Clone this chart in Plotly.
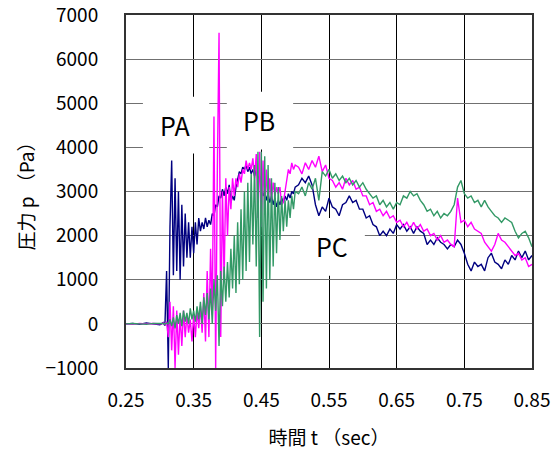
import numpy as np
import plotly.graph_objects as go

# ---- time samples (s) ----
T_FLAT = [0.25, 0.26, 0.27, 0.28, 0.29, 0.30]
T_MID = list(np.round(np.arange(0.3025, 0.50001, 0.0025), 4))   # 80 samples
T_END = list(np.round(np.arange(0.505, 0.85001, 0.005), 3))      # 70 samples
T = T_FLAT + T_MID + T_END

# ---- PA (navy) ----
PA_flat = [0, 10, -10, 20, 0, -20]
PA_mid = [
    0, 30, -40, 1200,
    -1000, 2200, 3700, 1100,
    3300, 1200, 3000, 1000,
    2700, 1300, 2500, 1500,
    2300, 1500, 2200, 1600,
    2300, 1800, 2400, 2100,
    2300, 2150, 2400, 2200,
    2350, 2250, 2500, 2450,
    2700, 2650, 2900, 2850,
    3050, 2900, 3100, 2950,
    3150, 2750, 2900, 2800,
    3100, 3250, 3450, 3400,
    3550, 3500, 3600, 3450,
    3550, 3400, 3500, 3350,
    3500, 3300, 3350, 3100,
    2900, 3000, 2800, 2950,
    2750, 2900, 2700, 2850,
    2650, 2800, 2700, 2850,
    2750, 2900, 2800, 2950,
    2850, 3000, 2950, 3100,
]
PA_end = [
    3150, 3300, 3200, 3350, 3150, 2700, 2450, 2650, 2550, 2850,
    2650, 2600, 2450, 2700, 2750, 2900, 2750, 2800, 2600, 2600,
    2400, 2450, 2250, 2200, 2000, 2100, 2000, 2150, 2050, 2250,
    2150, 2250, 2100, 2200, 2050, 2200, 2100, 2050, 1800, 1900,
    1800, 1950, 1850, 1800, 1700, 1800, 1750, 1900, 1800, 1600,
    1350, 1200, 1400, 1300, 1350, 1200, 1500, 1600, 1400, 1350,
    1250, 1450, 1350, 1550, 1450, 1650, 1500, 1650, 1450, 1550,
]

# ---- PB (magenta) ----
PB_flat = [0, -10, 10, 0, 10, -10]
PB_mid = [
    0, 20, -20, 50,
    -300, 500, -600, 400,
    -1000, 300, -700, 200,
    -500, 300, -300, 200,
    -200, 100, -400, 200,
    -300, 300, -100, 400,
    -200, 700, -400, 1200,
    -300, 1700, 200, 4700,
    -1000, 3500, 6600, -300,
    3000, 1000, 3300, 2000,
    3100, 2600, 3300, 2900,
    3300, 3100, 3400, 3200,
    3500, 3400, 3700, 3500,
    3650, 3500, 3750, 3300,
    3850, 2400, 3900, 2200,
    3700, 2500, 3500, 2700,
    3300, 2800, 3200, 2900,
    3100, 2950, 3100, 2700,
    2750, 3000, 3300, 3500,
    3400, 3650, 3500, 3600,
]
PB_end = [
    3550, 3400, 3650, 3500, 3700, 3550, 3800, 3450, 3600, 3300,
    3250, 3100, 3200, 3050, 3300, 3150, 3250, 3050, 3100, 2900,
    2900, 2700, 2750, 2550, 2600, 2450, 2550, 2400, 2450, 2300,
    2350, 2200, 2300, 2150, 2300, 2150, 2250, 2100, 2150, 2000,
    2050, 1900, 2000, 1850, 1900, 1800, 1750, 2850, 2300, 2350,
    2200, 2300, 2150, 2100, 2050, 1850, 1750, 1650, 1800, 2050,
    1900, 1850, 1750, 1650, 1550, 1600, 1450, 1500, 1300, 1350,
]

# ---- PC (green) ----
PC_flat = [0, 10, 0, -10, 10, 0]
PC_mid = [
    0, 10, -10, 20,
    0, 100, -50, 150,
    -100, 200, 0, 250,
    -50, 300, 50, 250,
    0, 350, 100, 300,
    50, 400, 100, 500,
    0, 600, 200, 700,
    100, 800, 0, 1000,
    300, 1100, -500, 1200,
    400, 1300, 500, 1400,
    600, 1700, 800, 2000,
    700, 2300, 900, 2600,
    1000, 3000, 1200, 3200,
    1400, 3400, 1800, 3600,
    1300, 3900, -300, 3900,
    500, 3800, 800, 3600,
    1000, 3300, 1300, 3200,
    1600, 3100, 1900, 2900,
    2100, 2800, 2200, 2800,
    2400, 2900, 2600, 3000,
]
PC_end = [
    2950, 3100, 2900, 3200, 3050, 3300, 2800, 3450, 3350, 3500,
    3300, 3400, 3250, 3350, 3200, 3300, 3150, 3250, 3100, 3200,
    3050, 2950, 2850, 2900, 2700, 2800, 2650, 2750, 2600, 2750,
    2700, 2900, 2850, 3000, 2900, 2950, 2800, 2700, 2550, 2600,
    2450, 2550, 2400, 2500, 2450, 2550, 2700, 3100, 3250, 2950,
    2850, 2900, 2750, 2800, 2650, 2800, 2650, 2550, 2450, 2400,
    2300, 2400, 2350, 2300, 2100, 1950, 2050, 2100, 1950, 1750,
]

PA = PA_flat + PA_mid + PA_end
PB = PB_flat + PB_mid + PB_end
PC = PC_flat + PC_mid + PC_end
assert len(PA) == len(T) and len(PB) == len(T) and len(PC) == len(T)

SERIES = [("PA", PA, "#000080"), ("PB", PB, "#FF00FF"), ("PC", PC, "#339966")]

# label positions (data coords) and their white boxes
LABELS = [("PA", 0.322, 4500), ("PB", 0.447, 4620), ("PC", 0.555, 1760)]
BOXES = [(0.275, 0.373, 3860, 5150), (0.399, 0.497, 3950, 5260), (0.507, 0.603, 1090, 2400)]

FONT = "Noto Sans CJK JP, sans-serif"

fig = go.Figure()
for name, vals, col in SERIES:
    fig.add_trace(go.Scatter(x=T, y=vals, mode="lines", name=name,
                             line=dict(color=col, width=1.4)))

for x0, x1, y0, y1 in BOXES:
    fig.add_shape(type="rect", xref="x", yref="y", x0=x0, x1=x1, y0=y0, y1=y1,
                  fillcolor="white", line=dict(width=0), layer="between")

for txt, xv, yv in LABELS:
    fig.add_annotation(x=xv, y=yv, text=txt, showarrow=False,
                       font=dict(family=FONT, size=25, color="black"))

fig.update_layout(
    width=553, height=450,
    margin=dict(l=126, r=21, t=15, b=82),
    paper_bgcolor="white", plot_bgcolor="white",
    showlegend=False,
    font=dict(family=FONT, size=19, color="black"),
)
fig.update_xaxes(
    range=[0.25, 0.85], tick0=0.25, dtick=0.1, tickformat=".2f",
    showgrid=True, gridcolor="black", gridwidth=1,
    showline=True, linecolor="#333333", linewidth=2, mirror=True,
    ticks="", ticklabelstandoff=14, zeroline=False, automargin=False,
    ticklabeloverflow="allow", tickfont=dict(size=19),
    title=dict(text="時間 t （sec）", font=dict(family=FONT, size=19), standoff=22),
)
fig.update_yaxes(
    range=[-1000, 7000], dtick=1000,
    showgrid=True, gridcolor="#707070", gridwidth=1,
    showline=True, linecolor="#333333", linewidth=2, mirror=True,
    ticks="", ticklabelstandoff=22, zeroline=False, automargin=False,
    ticklabeloverflow="allow", tickfont=dict(size=19),
    title=dict(text="圧力 p （Pa）", font=dict(family=FONT, size=19), standoff=6),
)

fig.write_html("out.html")
